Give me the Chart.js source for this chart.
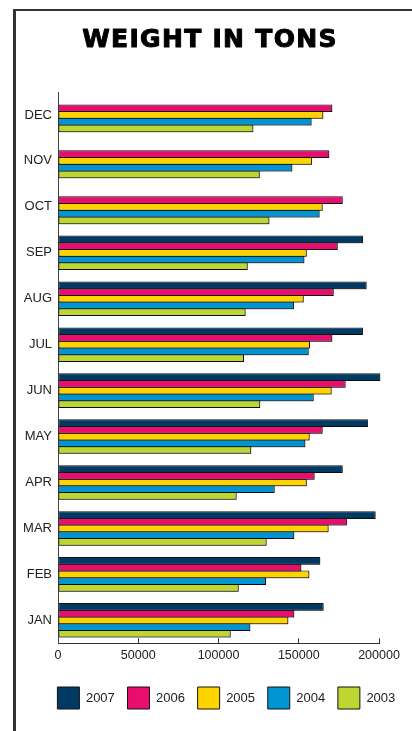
<!DOCTYPE html>
<html lang="en">
<head>
    <meta charset="UTF-8">
    <meta name="viewport" content="width=device-width, initial-scale=1.0">
    <title>Weight in Tons</title>
    <script src="https://cdn.jsdelivr.net/npm/chart.js"></script>
    <style>
        body { margin: 0; background: #ffffff; font-family: "Liberation Sans", Arial, sans-serif; }
        .frame { position: absolute; left: 13px; top: 9px; width: 399px; height: 722px; border-left: 3px solid #333; border-top: 2px solid #333; }
        #weightChart { position: absolute; left: 16px; top: 11px; }
    </style>
</head>
<body>
    <div class="frame"></div>
    <canvas id="weightChart" width="396" height="720"></canvas>

    <script>
        const title = 'WEIGHT IN TONS';
        const months = ['JAN', 'FEB', 'MAR', 'APR', 'MAY', 'JUN', 'JUL', 'AUG', 'SEP', 'OCT', 'NOV', 'DEC'];
        const years = ['2007', '2006', '2005', '2004', '2003'];
        const colors = ['#003a63', '#e90d6d', '#ffd300', '#0094d2', '#bdd632'];

        // tons per month, JAN..DEC (no 2007 figures for OCT-DEC)
        const tons2007 = [165500, 163400, 197900, 177400, 193100, 200800, 190000, 192300, 190000, null, null, null];
        const tons2006 = [147200, 151600, 180000, 159900, 164900, 179200, 170900, 171800, 174300, 177400, 169000, 170900];
        const tons2005 = [143500, 156600, 168600, 155000, 156800, 170500, 157000, 153100, 155000, 164900, 158300, 165300];
        const tons2004 = [119800, 129600, 147200, 135000, 154100, 159300, 156200, 147000, 153500, 163000, 146000, 158000];
        const tons2003 = [107600, 112600, 130000, 111300, 120400, 126000, 115900, 116900, 118200, 131700, 125700, 121700];

        const series = [tons2007, tons2006, tons2005, tons2004, tons2003];

        // thin grey drop shadow under the bars
        const barShadow = {
            id: 'barShadow',
            beforeDatasetsDraw(chart) {
                const ctx = chart.ctx;
                ctx.save();
                ctx.shadowColor = 'rgba(0, 0, 0, 0.35)';
                ctx.shadowOffsetX = 1;
                ctx.shadowOffsetY = 1;
                ctx.shadowBlur = 0;
            },
            afterDatasetsDraw(chart) {
                chart.ctx.restore();
            }
        };

        // heavy poster-style heading (built-in title can't stroke or letter-space)
        const heavyTitle = {
            id: 'heavyTitle',
            afterDraw(chart) {
                const ctx = chart.ctx;
                ctx.save();
                ctx.font = 'bold 25px "DejaVu Sans", sans-serif';
                ctx.letterSpacing = '1.3px';
                ctx.textAlign = 'center';
                ctx.textBaseline = 'middle';
                ctx.fillStyle = '#000';
                ctx.strokeStyle = '#000';
                ctx.lineWidth = 1;
                ctx.lineJoin = 'round';
                const x = chart.width / 2 - 4;
                const y = 29;
                ctx.fillText(title, x, y);
                ctx.strokeText(title, x, y);
                ctx.restore();
            }
        };

        const labelFont = { family: '"Liberation Sans", Arial, sans-serif', size: 13 };

        const ctx = document.getElementById('weightChart').getContext('2d');
        new Chart(ctx, {
            type: 'bar',
            data: {
                labels: months,
                datasets: years.map((year, i) => ({
                    label: year,
                    data: series[i],
                    backgroundColor: colors[i],
                    borderColor: '#111',
                    borderWidth: 1,
                    borderSkipped: false,
                    categoryPercentage: 0.73,
                    barPercentage: 1.15,
                    clip: false
                }))
            },
            options: {
                indexAxis: 'y',
                responsive: false,
                animation: false,
                layout: { padding: { left: 0, right: 4, top: 81, bottom: 12 } },
                plugins: {
                    title: { display: false },
                    legend: {
                        position: 'bottom',
                        align: 'end',
                        labels: {
                            boxWidth: 22,
                            boxHeight: 22,
                            padding: 12.7,
                            color: '#222',
                            font: labelFont
                        }
                    },
                    tooltip: { enabled: false }
                },
                scales: {
                    x: {
                        min: 0,
                        max: 200000,
                        ticks: {
                            stepSize: 50000,
                            color: '#222',
                            padding: 9.5,
                            font: { family: '"Liberation Sans", Arial, sans-serif', size: 12.5 },
                            callback: value => String(value)
                        },
                        grid: { drawOnChartArea: false, drawTicks: true, tickLength: -5, color: '#333' },
                        border: { display: true, color: '#333', width: 1 },
                        afterFit(scale) { scale.height = 31; }
                    },
                    y: {
                        reverse: true,
                        ticks: { color: '#222', padding: 6, font: labelFont },
                        grid: { display: false, drawTicks: false },
                        border: { display: true, color: '#444', width: 1 },
                        afterFit(scale) { scale.width = 42; }
                    },
                    // empty right-hand axis, only keeps room on the right of the plot
                    yRight: {
                        type: 'linear',
                        position: 'right',
                        ticks: { display: false },
                        grid: { display: false, drawTicks: false },
                        border: { display: false },
                        afterFit(scale) { scale.width = 29; }
                    }
                }
            },
            plugins: [barShadow, heavyTitle]
        });
    </script>
</body>
</html>
